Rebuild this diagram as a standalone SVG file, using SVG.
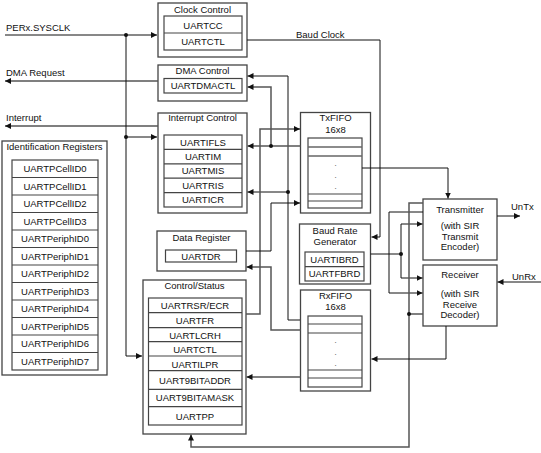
<svg xmlns="http://www.w3.org/2000/svg" width="541" height="453" viewBox="0 0 541 453">
<defs>
<style>
.box{fill:#fff;stroke:#444;stroke-width:1.3}
.in{fill:none;stroke:#444;stroke-width:1.2}
.th{stroke:#666;stroke-width:1.6}
text{font-family:"Liberation Sans",Arial,sans-serif;font-size:9.5px;fill:#111;text-anchor:middle}
.l{text-anchor:start}
.w{fill:none;stroke:#111;stroke-width:1}
.g{fill:none;stroke:#555;stroke-width:1.5}
.dot{fill:#111}
.d{fill:#777}
</style>
<marker id="a" markerUnits="userSpaceOnUse" markerWidth="7" markerHeight="7" refX="6" refY="3" orient="auto">
<path d="M0,0 L6,3 L0,6 z" fill="#111"/>
</marker>
</defs>
<rect width="541" height="453" fill="#fff"/>

<g id="clock-control">
<rect class="box" x="158" y="3" width="89" height="54"/>
<text x="202.5" y="12.5">Clock Control</text>
<rect class="in" x="164" y="16" width="78" height="34"/>
<line class="in" x1="164" y1="33" x2="242" y2="33"/>
<text x="203" y="28.5">UARTCC</text>
<text x="203" y="45">UARTCTL</text>
</g>

<g id="dma-control">
<rect class="box" x="158" y="65" width="89" height="36"/>
<text x="202.5" y="74">DMA Control</text>
<rect class="in" x="164" y="78.5" width="78" height="14.5"/>
<text x="203" y="89">UARTDMACTL</text>
</g>

<g id="interrupt-control">
<rect class="box" x="158" y="113" width="89" height="100"/>
<text x="202.5" y="121">Interrupt Control</text>
<rect class="in" x="164" y="135" width="78" height="72"/>
<line class="in" x1="164" y1="149.4" x2="242" y2="149.4"/>
<line class="in" x1="164" y1="163.8" x2="242" y2="163.8"/>
<line class="in" x1="164" y1="178.2" x2="242" y2="178.2"/>
<line class="in" x1="164" y1="192.6" x2="242" y2="192.6"/>
<text x="203" y="145.6">UARTIFLS</text>
<text x="203" y="160">UARTIM</text>
<text x="203" y="174.4">UARTMIS</text>
<text x="203" y="188.8">UARTRIS</text>
<text x="203" y="203.2">UARTICR</text>
</g>

<g id="identification-registers">
<rect class="box" x="2" y="141" width="105" height="234"/>
<text x="54.5" y="150">Identification Registers</text>
<rect class="in" x="12" y="160" width="86" height="210"/>
<line class="in" x1="12" y1="177.5" x2="98" y2="177.5"/>
<line class="in" x1="12" y1="195" x2="98" y2="195"/>
<line class="in" x1="12" y1="212.5" x2="98" y2="212.5"/>
<line class="in" x1="12" y1="230" x2="98" y2="230"/>
<line class="in" x1="12" y1="247.5" x2="98" y2="247.5"/>
<line class="in" x1="12" y1="265" x2="98" y2="265"/>
<line class="in" x1="12" y1="282.5" x2="98" y2="282.5"/>
<line class="in" x1="12" y1="300" x2="98" y2="300"/>
<line class="in" x1="12" y1="317.5" x2="98" y2="317.5"/>
<line class="in" x1="12" y1="335" x2="98" y2="335"/>
<line class="in" x1="12" y1="352.5" x2="98" y2="352.5"/>
<text x="55" y="172.2">UARTPCellID0</text>
<text x="55" y="189.7">UARTPCellID1</text>
<text x="55" y="207.2">UARTPCellID2</text>
<text x="55" y="224.7">UARTPCellID3</text>
<text x="55" y="242.2">UARTPeriphID0</text>
<text x="55" y="259.7">UARTPeriphID1</text>
<text x="55" y="277.2">UARTPeriphID2</text>
<text x="55" y="294.7">UARTPeriphID3</text>
<text x="55" y="312.2">UARTPeriphID4</text>
<text x="55" y="329.7">UARTPeriphID5</text>
<text x="55" y="347.2">UARTPeriphID6</text>
<text x="55" y="364.7">UARTPeriphID7</text>
</g>

<g id="data-register">
<rect class="box" x="157" y="231" width="89" height="40"/>
<text x="201.5" y="241">Data Register</text>
<rect class="in" x="165.5" y="250" width="71" height="12"/>
<text x="201" y="259.5">UARTDR</text>
</g>

<g id="control-status">
<rect class="box" x="143" y="280" width="103" height="154"/>
<text x="194.5" y="288.5">Control/Status</text>
<rect class="in" x="148.5" y="298" width="93.5" height="127"/>
<line class="in" x1="148.5" y1="312.7" x2="242" y2="312.7"/>
<line class="in" x1="148.5" y1="327.7" x2="242" y2="327.7"/>
<line class="in" x1="148.5" y1="341.7" x2="242" y2="341.7"/>
<line class="in" x1="148.5" y1="356" x2="242" y2="356"/>
<line class="in" x1="148.5" y1="370.7" x2="242" y2="370.7"/>
<line class="in" x1="148.5" y1="389.3" x2="242" y2="389.3"/>
<line class="in" x1="148.5" y1="406.7" x2="242" y2="406.7"/>
<text x="195" y="309">UARTRSR/ECR</text>
<text x="195" y="324">UARTFR</text>
<text x="195" y="338.5">UARTLCRH</text>
<text x="195" y="352.5">UARTCTL</text>
<text x="195" y="367.5">UARTILPR</text>
<text x="195" y="384">UART9BITADDR</text>
<text x="195" y="401">UART9BITAMASK</text>
<text x="195" y="420">UARTPP</text>
</g>

<g id="txfifo">
<rect class="box" x="300.5" y="112.5" width="70" height="100.5"/>
<text x="335.5" y="121">TxFIFO</text>
<text x="335.5" y="132.5">16x8</text>
<rect class="in" x="308" y="138" width="54" height="70"/>
<line class="in th" x1="308" y1="147" x2="362" y2="147"/>
<line class="in th" x1="308" y1="156" x2="362" y2="156"/>
<line class="in" x1="308" y1="194" x2="362" y2="194"/>
<line class="in" x1="308" y1="201" x2="362" y2="201"/>
<text class="d" x="335.5" y="166">.</text>
<text class="d" x="335.5" y="177.5">.</text>
<text class="d" x="335.5" y="188.5">.</text>
</g>

<g id="baud-rate-generator">
<rect class="box" x="299.5" y="224" width="71" height="60"/>
<text x="335" y="233.5">Baud Rate</text>
<text x="335" y="244.5">Generator</text>
<rect class="in" x="305" y="252" width="59" height="29"/>
<line class="in" x1="305" y1="266.7" x2="364" y2="266.7"/>
<text x="334.5" y="262.7">UARTIBRD</text>
<text x="334.5" y="277">UARTFBRD</text>
</g>

<g id="rxfifo">
<rect class="box" x="300.5" y="290" width="70" height="101"/>
<text x="335.5" y="299">RxFIFO</text>
<text x="335.5" y="310">16x8</text>
<rect class="in" x="308" y="316" width="54" height="71"/>
<line class="in" x1="308" y1="324" x2="362" y2="324"/>
<line class="in" x1="308" y1="333" x2="362" y2="333"/>
<line class="in" x1="308" y1="370" x2="362" y2="370"/>
<line class="in" x1="308" y1="378" x2="362" y2="378"/>
<text class="d" x="335.5" y="343">.</text>
<text class="d" x="335.5" y="354.5">.</text>
<text class="d" x="335.5" y="366">.</text>
</g>

<g id="transmitter">
<rect class="box" x="423" y="199" width="74" height="61"/>
<text x="460" y="212.5">Transmitter</text>
<text x="460" y="228.5">(with SIR</text>
<text x="460" y="239.5">Transmit</text>
<text x="460" y="250">Encoder)</text>
</g>

<g id="receiver">
<rect class="box" x="423" y="265" width="74" height="61"/>
<text x="460" y="277.5">Receiver</text>
<text x="460" y="297">(with SIR</text>
<text x="460" y="307.5">Receive</text>
<text x="460" y="318">Decoder)</text>
</g>

<g id="connectors">
<path class="w" d="M5,35 H157" marker-end="url(#a)"/>
<text class="l" x="6" y="31">PERx.SYSCLK</text>
<path class="g" d="M158,81 H5" marker-end="url(#a)"/>
<text class="l" x="6" y="76">DMA Request</text>
<path class="g" d="M158,126 H5" marker-end="url(#a)"/>
<text class="l" x="6" y="121">Interrupt</text>
<path class="w" d="M126,35 V356 H142" marker-end="url(#a)"/>
<path class="w" d="M126,137 H157" marker-end="url(#a)"/>
<circle class="dot" cx="126" cy="35" r="2"/>
<circle class="dot" cx="126" cy="137" r="2"/>

<path class="w" d="M247,40 H380 V237 H371.5" marker-end="url(#a)"/>
<text class="l" x="296" y="37.5">Baud Clock</text>

<path class="w" d="M300,320 H288 V76 H247.5" marker-end="url(#a)"/>
<path class="w" d="M288,192 H247.5" marker-end="url(#a)"/>
<circle class="dot" cx="288" cy="192" r="2"/>
<path class="g" d="M271,146 V87 H247.5" marker-end="url(#a)"/>
<path class="g" d="M300.5,146 H247.5" marker-end="url(#a)"/>
<circle class="dot" cx="271" cy="146" r="2"/>

<path class="g" d="M246,314 H260 V129 H300" marker-end="url(#a)"/>
<path class="w" d="M246,251 H271 V203 H300" marker-end="url(#a)"/>
<path class="g" d="M300.5,330 H271 V267 H246.5" marker-end="url(#a)"/>
<path class="g" d="M300.5,377 H246.5" marker-end="url(#a)"/>

<path class="w" d="M362,168 H448 V198.5" marker-end="url(#a)"/>
<path class="w" d="M370.5,254 H401"/>
<path class="w" d="M401,224 V278"/>
<path class="w" d="M401,224 H422.5" marker-end="url(#a)"/>
<path class="w" d="M401,278 H422.5" marker-end="url(#a)"/>
<circle class="dot" cx="401" cy="254" r="2"/>
<path class="w" d="M423,212 H389 V293 H422.5" marker-end="url(#a)"/>
<path class="g" d="M423,203 H409 V447 H191 V434.5" marker-end="url(#a)"/>
<path class="g" d="M409,314 H423"/>
<circle class="dot" cx="409" cy="314" r="2"/>
<path class="w" d="M446,326 V359 H371.5" marker-end="url(#a)"/>
<path class="w" d="M497,216 H520" marker-end="url(#a)"/>
<text class="l" x="511" y="210">UnTx</text>
<path class="w" d="M541,282 H497.5" marker-end="url(#a)"/>
<text class="l" x="512" y="280">UnRx</text>
</g>
</svg>
